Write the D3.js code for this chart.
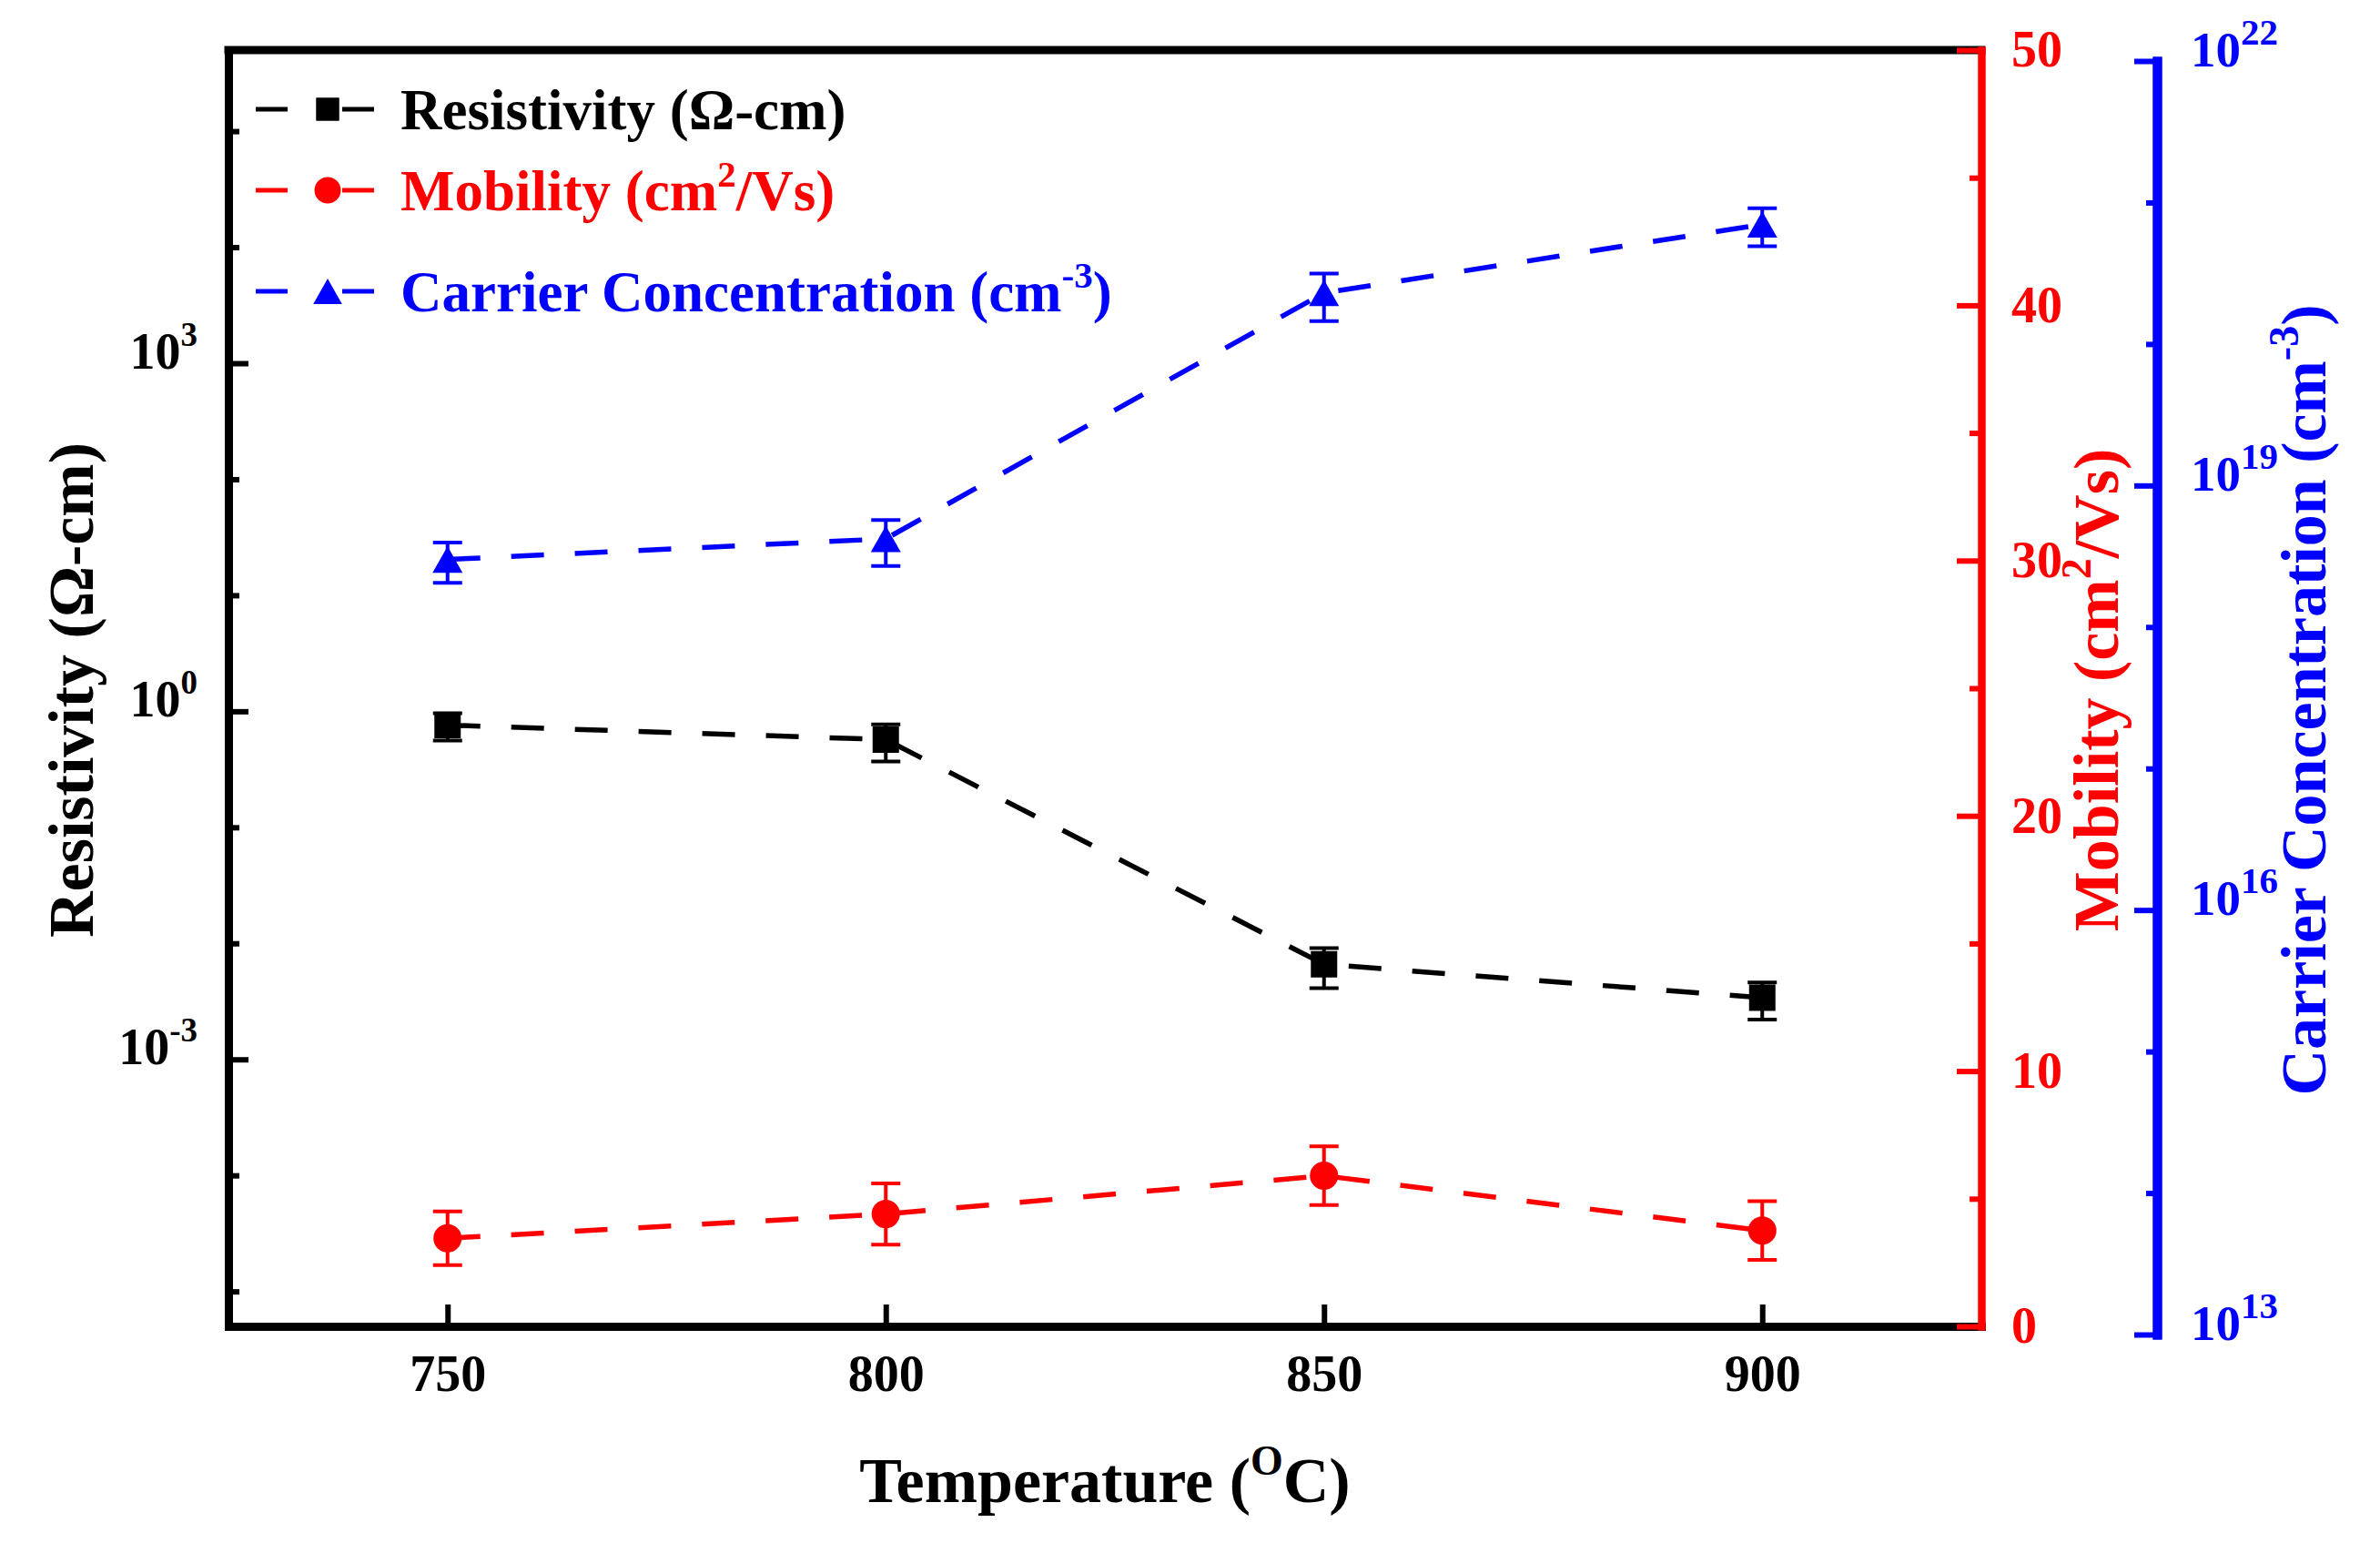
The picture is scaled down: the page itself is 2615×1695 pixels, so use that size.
<!DOCTYPE html>
<html>
<head>
<meta charset="utf-8">
<script src="https://cdn.jsdelivr.net/npm/d3@7"></script>
<style>
    body { margin: 0; background: #fff; }
    svg text { font-family: "Liberation Serif", "Times New Roman", serif; font-weight: bold; }
</style>
</head>
<body>
<svg id="chart" width="2615" height="1695"></svg>
<script>
// values
var temperature = [750, 800, 850, 900]
var resistivity = [0.76, 0.57, 0.0066, 0.0034]
var resistivityErr = [0.2, 0.2, 0.0025, 0.0012]
var mobility = [3.45, 4.4, 5.9, 3.75]
var mobilityErr = [1.05, 1.2, 1.15, 1.15]
var carrier = [3.0e18, 4.2e18, 2.3e20, 7.0e20]
var carrierErr = [0.95e18, 1.5e18, 0.85e20, 2.1e20]

// tick values
var xTicks = [750, 800, 850, 900]
var resTicks = [1e-3, 1e0, 1e3]
var resMinor = [1e-5, 1e-4, 1e-2, 1e-1, 1e1, 1e2, 1e4, 1e5]
var mobTicks = [0, 10, 20, 30, 40, 50]
var mobMinor = [5, 15, 25, 35, 45]
var carTicks = [1e13, 1e16, 1e19, 1e22]
var carMinor = [1e14, 1e15, 1e17, 1e18, 1e20, 1e21]

var RED = "#ff0000", BLUE = "#0000ff", BLACK = "#000000"

var svg = d3.select("#chart")

// scales
var x = d3.scaleLinear().domain([725, 925]).range([251, 2177]),
    yRes = d3.scaleLog().domain([5e-6, 5e5]).range([1457, 55]),
    yMob = d3.scaleLinear().domain([0, 50]).range([1457, 55]),
    yCar = d3.scaleLog().domain([1e13, 1e22]).range([1466, 67])

// helper: put "10" with a superscript exponent into a tick text
function powerLabel(sel, baseSize, supSize, rise) {
    sel.each(function(d) {
        var t = d3.select(this).text(null)
        t.append("tspan").attr("font-size", baseSize).text("10")
        t.append("tspan").attr("font-size", supSize).attr("dy", -rise).text(Math.round(Math.log10(d)))
    })
}

function styleAxis(g, color, width) {
    g.attr("font-family", null).attr("font-size", null)
    g.select(".domain").attr("stroke", color).attr("stroke-width", width).attr("stroke-linecap", "square")
    g.selectAll(".tick line").attr("stroke", color).attr("stroke-width", 6)
    g.selectAll(".tick text").attr("fill", color)
}

// top frame line
svg.append("line")
    .attr("x1", x(725)).attr("x2", x(925))
    .attr("y1", yRes(5e5)).attr("y2", yRes(5e5))
    .attr("stroke", BLACK).attr("stroke-width", 9).attr("stroke-linecap", "square")

// bottom axis
var gx = svg.append("g")
    .attr("transform", "translate(0," + yRes(5e-6) + ")")
    .call(d3.axisBottom(x).tickValues(xTicks).tickSizeInner(-24).tickSizeOuter(0).tickPadding(31).tickFormat(d3.format("d")))
styleAxis(gx, BLACK, 9)
gx.selectAll(".tick text").attr("font-size", 56)

// left log axis (resistivity)
var gyMinor = svg.append("g")
    .attr("transform", "translate(" + x(725) + ",0)")
    .call(d3.axisLeft(yRes).tickValues(resMinor).tickSizeInner(-12).tickSizeOuter(0).tickFormat(""))
styleAxis(gyMinor, BLACK, 9)
var gy = svg.append("g")
    .attr("transform", "translate(" + x(725) + ",0)")
    .call(d3.axisLeft(yRes).tickValues(resTicks).tickSizeInner(-22).tickSizeOuter(0).tickPadding(34))
styleAxis(gy, BLACK, 9)
gy.selectAll(".tick text").call(powerLabel, 56, 37, 25)

// right red axis (mobility)
var gm = svg.append("g")
    .attr("transform", "translate(" + x(925) + ",0)")
    .call(d3.axisRight(yMob).tickValues(mobMinor).tickSizeInner(-13).tickSizeOuter(0).tickFormat(""))
styleAxis(gm, RED, 8)
var gm2 = svg.append("g")
    .attr("transform", "translate(" + x(925) + ",0)")
    .call(d3.axisRight(yMob).tickValues(mobTicks).tickSizeInner(-27).tickSizeOuter(0).tickPadding(33))
styleAxis(gm2, RED, 8)
gm2.selectAll(".tick text").attr("font-size", 56)

// far right blue axis (carrier concentration)
var gc = svg.append("g")
    .attr("transform", "translate(2370,0)")
    .call(d3.axisRight(yCar).tickValues(carMinor).tickSizeInner(-12).tickSizeOuter(0).tickFormat(""))
styleAxis(gc, BLUE, 10)
var gc2 = svg.append("g")
    .attr("transform", "translate(2370,0)")
    .call(d3.axisRight(yCar).tickValues(carTicks).tickSizeInner(-25).tickSizeOuter(0).tickPadding(37))
styleAxis(gc2, BLUE, 10)
gc2.selectAll(".tick text").call(powerLabel, 55, 41, 24)

// axis titles
function title(px, py, rot, color, parts) {
    var t = svg.append("text")
        .attr("transform", "translate(" + px + "," + py + ")" + (rot ? " rotate(-90)" : ""))
        .attr("text-anchor", "middle")
        .attr("font-size", 70)
        .attr("fill", color)
    parts.forEach(function(p) {
        var s = t.append("tspan").text(p.text)
        if (p.sup) s.attr("font-size", 46).attr("dy", -30)
        if (p.down) s.attr("dy", 30)
    })
    return t
}

title(1214, 1650, false, BLACK, [{ text: "Temperature (" }, { text: "O", sup: true }, { text: "C)", down: true }])
title(102, 758, true, BLACK, [{ text: "Resistivity (\u03A9-cm)" }])
title(2327, 758, true, RED, [{ text: "Mobility (cm" }, { text: "2", sup: true }, { text: "/Vs)", down: true }])
title(2555, 769, true, BLUE, [{ text: "Carrier Concentration (cm" }, { text: "-3", sup: true }, { text: ")", down: true }])

// marker shapes
var triangle = {
    draw: function(ctx, size) {
        var w = Math.sqrt(size), h = w * 0.88
        ctx.moveTo(0, -h / 2)
        ctx.lineTo(w / 2, h / 2)
        ctx.lineTo(-w / 2, h / 2)
        ctx.closePath()
    }
}

var series = [
    { name: "res", vals: resistivity, errs: resistivityErr, y: yRes, color: BLACK, sym: d3.symbolSquare, size: 841 },
    { name: "mob", vals: mobility, errs: mobilityErr, y: yMob, color: RED, sym: d3.symbolCircle, size: 760 },
    { name: "car", vals: carrier, errs: carrierErr, y: yCar, color: BLUE, sym: triangle, size: 1089 }
]

series.forEach(function(s) {
    var rows = temperature.map(function(t, i) { return { t: t, v: s.vals[i], e: s.errs[i] } })
    var g = svg.append("g").attr("class", "series " + s.name)

    var line = d3.line()
        .x(function(d) { return x(d.t) })
        .y(function(d) { return s.y(d.v) })

    g.append("path")
        .datum(rows)
        .attr("d", line)
        .attr("fill", "none")
        .attr("stroke", s.color)
        .attr("stroke-width", 5.5)
        .attr("stroke-dasharray", "36,34")

    // error bars
    var eb = g.selectAll(".err").data(rows).enter().append("g")
        .attr("stroke", s.color).attr("stroke-width", 4)
    eb.append("line")
        .attr("x1", function(d) { return x(d.t) }).attr("x2", function(d) { return x(d.t) })
        .attr("y1", function(d) { return s.y(d.v + d.e) }).attr("y2", function(d) { return s.y(d.v - d.e) })
    eb.append("line")
        .attr("x1", function(d) { return x(d.t) - 16 }).attr("x2", function(d) { return x(d.t) + 16 })
        .attr("y1", function(d) { return s.y(d.v + d.e) }).attr("y2", function(d) { return s.y(d.v + d.e) })
    eb.append("line")
        .attr("x1", function(d) { return x(d.t) - 16 }).attr("x2", function(d) { return x(d.t) + 16 })
        .attr("y1", function(d) { return s.y(d.v - d.e) }).attr("y2", function(d) { return s.y(d.v - d.e) })

    // markers
    g.selectAll(".pt").data(rows).enter().append("path")
        .attr("transform", function(d) { return "translate(" + x(d.t) + "," + s.y(d.v) + ")" })
        .attr("d", d3.symbol().type(s.sym).size(s.size))
        .attr("fill", s.color)
})

// legend
var legendItems = [
    { color: BLACK, sym: d3.symbolSquare, size: 650, parts: [{ text: "Resistivity (\u03A9-cm)" }] },
    { color: RED, sym: d3.symbolCircle, size: 660, parts: [{ text: "Mobility (cm" }, { text: "2", sup: true }, { text: "/Vs)", down: true }] },
    { color: BLUE, sym: triangle, size: 1000, parts: [{ text: "Carrier Concentration (cm" }, { text: "-3", sup: true }, { text: ")", down: true }] }
]
var legendY = [120, 209, 320]

var legend = svg.append("g").attr("class", "legend")
legendItems.forEach(function(item, i) {
    var row = legend.append("g").attr("transform", "translate(0," + legendY[i] + ")")
    row.append("line")
        .attr("x1", 281).attr("x2", 411).attr("y1", 0).attr("y2", 0)
        .attr("stroke", item.color).attr("stroke-width", 5)
        .attr("stroke-dasharray", "35,60,35")
    row.append("path")
        .attr("transform", "translate(360,0)")
        .attr("d", d3.symbol().type(item.sym).size(item.size))
        .attr("fill", item.color)
    var t = row.append("text")
        .attr("x", 440).attr("y", 22)
        .attr("font-size", 63)
        .attr("fill", item.color)
    item.parts.forEach(function(p) {
        var s = t.append("tspan").text(p.text)
        if (p.sup) s.attr("font-size", 41).attr("dy", -26)
        if (p.down) s.attr("dy", 26)
    })
})
</script>
</body>
</html>
